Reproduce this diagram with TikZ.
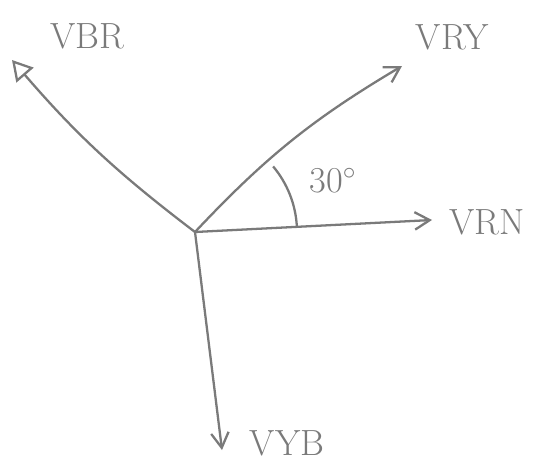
\documentclass[tikz,border=0pt]{standalone}
\usetikzlibrary{arrows.meta}
\definecolor{cpen}{HTML}{7A7A7A}
\tikzset{
  every picture/.style={line width=1.3pt},
  vec/.style={draw=cpen, -{Straight Barb[length=3mm, width=3.5mm]}},
  tri/.style={draw=cpen, -{Triangle[open, length=4mm, width=4.5mm]}},
  lbl/.style={text=cpen, font=\huge, inner sep=1pt},
}
\begin{document}
\begin{tikzpicture}[x=0.02cm, y=0.02cm]
  \useasboundingbox (0,0) rectangle (534,471);
  \coordinate (o) at (195,239);
  \coordinate (rn) at (432,251);
  \coordinate (ry) at (402,405);
  \coordinate (br) at (12,411);
  \coordinate (yb) at (222,21);
  \draw[vec] (o) -- (rn);
  \draw[vec] (o) to[bend left=8] (ry);
  \draw[tri] (o) to[bend left=6] (br);
  \draw[vec] (o) -- (yb);
  % angle between VRN and VRY
  \draw[cpen] (o) ++(3:102) arc (3:40:102);
  \node[lbl] (nrn) at (487,249) {VRN};
  \node[lbl] (nry) at (452,434) {VRY};
  \node[lbl] (nbr) at (87,435) {VBR};
  \node[lbl] (nyb) at (287,28) {VYB};
  \node[lbl] (ang) at (333,290) {30$^{\circ}$};
\end{tikzpicture}
\end{document}
